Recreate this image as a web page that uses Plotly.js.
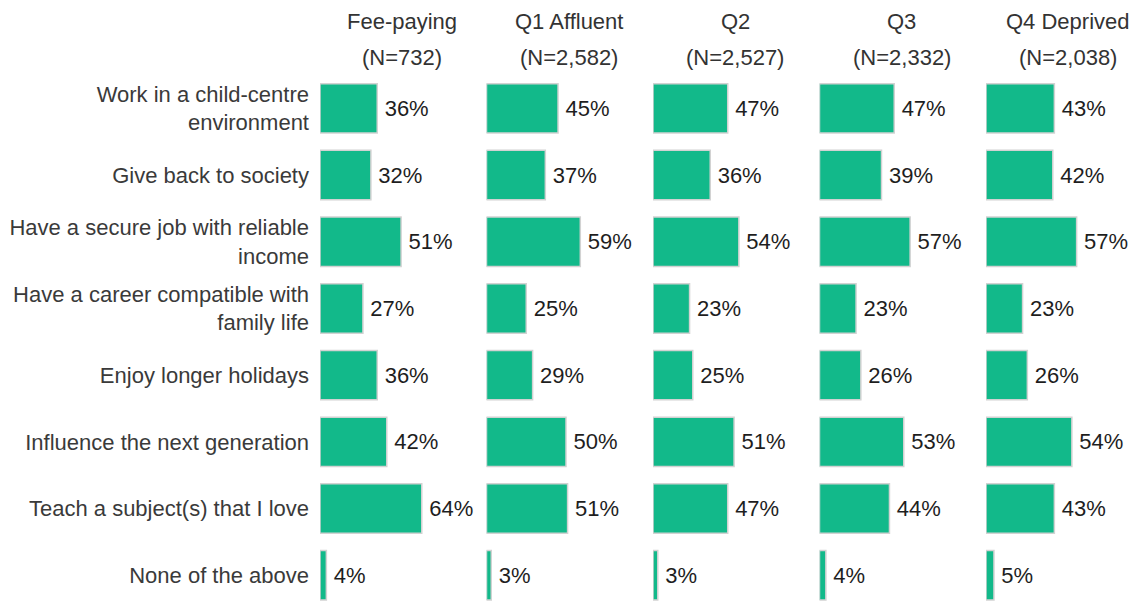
<!DOCTYPE html>
<html>
<head>
<meta charset="utf-8">
<script src="https://cdn.plot.ly/plotly-3.0.1.min.js"></script>
<style>html,body{margin:0;padding:0;background:#fff;}#chart{width:1139px;height:601px;}</style>
</head>
<body>
<div id="chart"></div>
<script>
const categories = [
  "Work in a child-centre<br>environment",
  "Give back to society",
  "Have a secure job with reliable<br>income",
  "Have a career compatible with<br>family life",
  "Enjoy longer holidays",
  "Influence the next generation",
  "Teach a subject(s) that I love",
  "None of the above"
];
const groupNames = ["Fee-paying", "Q1 Affluent", "Q2", "Q3", "Q4 Deprived"];
const groupNs = ["(N=732)", "(N=2,582)", "(N=2,527)", "(N=2,332)", "(N=2,038)"];
const feePaying = [36, 32, 51, 27, 36, 42, 64, 4];
const q1Affluent = [45, 37, 59, 25, 29, 50, 51, 3];
const q2 = [47, 36, 54, 23, 25, 51, 47, 3];
const q3 = [47, 39, 57, 23, 26, 53, 44, 4];
const q4Deprived = [43, 42, 57, 23, 26, 54, 43, 5];
const seriesValues = [feePaying, q1Affluent, q2, q3, q4Deprived];

const W = 1139, H = 601;
const ml = 320, mr = 3, mt = 75, mb = 0;
const pw = W - ml - mr, ph = H - mt - mb;
const panelStep = 166.5, panelW = 150, pxPerPct = 1.59;
const rowH = 66.7;
const font = "Liberation Sans, Arial, sans-serif";
const fs = 22;

const traces = [];
const layout = {
  width: W, height: H,
  margin: {l: ml, r: mr, t: mt, b: mb, pad: 0},
  paper_bgcolor: "#fff", plot_bgcolor: "#fff",
  showlegend: false,
  bargap: 0.26,
  font: {family: font, size: fs, color: "#333"},
  yaxis: {
    type: "category",
    range: [ph / rowH - 0.5, -0.5],
    showgrid: false, zeroline: false, showline: false, ticks: "",
    tickfont: {family: font, size: fs, color: "#3a3a3a"},
    ticklabelstandoff: 10,
    anchor: "x"
  },
  annotations: []
};

seriesValues.forEach((vals, i) => {
  const axId = i === 0 ? "" : String(i + 1);
  const d0 = i * panelStep / pw;
  const d1 = Math.min(1, d0 + panelW / pw);
  layout["xaxis" + axId] = {
    domain: [d0, d1],
    range: [0, (d1 - d0) * pw / pxPerPct],
    anchor: "y",
    showticklabels: false, ticks: "",
    showline: false, zeroline: false,
    showgrid: true, tickvals: [0],
    gridcolor: "#cfcfcf", griddash: "dash", gridwidth: 1
  };
  traces.push({
    type: "bar", orientation: "h",
    x: vals, y: categories,
    xaxis: "x" + axId, yaxis: "y",
    marker: {color: "#12b98a", line: {color: "#d2d2d2", width: 1.5}},
    texttemplate: "\u2009%{x}%", textposition: "outside",
    textfont: {family: font, size: fs, color: "#1e1e1e"},
    cliponaxis: false, hoverinfo: "skip"
  });
  const cx = d0 + 82 / pw;
  layout.annotations.push({
    xref: "paper", yref: "paper", x: cx, y: 1 + (mt - 22) / ph,
    xanchor: "center", yanchor: "middle", showarrow: false,
    text: groupNames[i], font: {family: font, size: fs, color: "#333"}
  });
  layout.annotations.push({
    xref: "paper", yref: "paper", x: cx, y: 1 + (mt - 57) / ph,
    xanchor: "center", yanchor: "middle", showarrow: false,
    text: groupNs[i], font: {family: font, size: fs, color: "#333"}
  });
});

Plotly.newPlot("chart", traces, layout, {staticPlot: true, displayModeBar: false});
</script>
</body>
</html>
